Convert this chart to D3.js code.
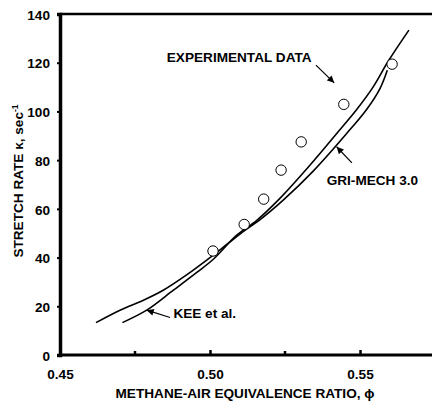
<!DOCTYPE html>
<html>
<head>
<meta charset="utf-8">
<script src="https://cdn.jsdelivr.net/npm/d3@7"></script>
<style>
  html, body { margin: 0; padding: 0; background: #fff; }
  svg { display: block; font-family: "Liberation Sans", Arial, sans-serif; font-weight: bold; }
</style>
</head>
<body>
<svg id="chart" width="432" height="407"></svg>
<script>
// Measured stretch rates of lean methane-air flames
const expPhi = [0.501, 0.5114, 0.5179, 0.5237, 0.5304, 0.5446, 0.5607];
const expRate = [42.7, 53.6, 64.0, 75.9, 87.5, 102.9, 119.4];

// GRI-Mech 3.0 prediction
const griPhi = [0.462, 0.470, 0.4778, 0.4844, 0.4922, 0.500, 0.506, 0.5114, 0.5166, 0.5244, 0.5344, 0.5456, 0.5522, 0.5567, 0.5591];
const griRate = [13.3, 18.4, 22.5, 26.6, 32.9, 40.0, 45.8, 51.0, 55.5, 63.6, 75.5, 91.0, 100.8, 109.5, 116.9];

// Kee et al. prediction
const keePhi = [0.4708, 0.4789, 0.4878, 0.4956, 0.5011, 0.5089, 0.5156, 0.5233, 0.5333, 0.5433, 0.5489, 0.5544, 0.5594, 0.5663];
const keeRate = [13.3, 18.4, 26.6, 33.9, 39.3, 49.2, 55.3, 64.3, 77.9, 92.5, 100.8, 110.1, 120.6, 133.4];

// Axis ticks
const xTickLabels = [0.45, 0.50, 0.55];
const xMinorTicks = [0.475, 0.525];
const yTickLabels = [0, 20, 40, 60, 80, 100, 120, 140];

const FONT = 13.6;

const svg = d3.select("#chart");
const x = d3.scaleLinear().domain([0.45, 0.575]).range([60, 435]);
const y = d3.scaleLinear().domain([0, 140]).range([355, 14]);

svg.append("defs").append("marker")
  .attr("id", "head")
  .attr("viewBox", "0 0 10 10")
  .attr("refX", 10).attr("refY", 5)
  .attr("markerUnits", "userSpaceOnUse")
  .attr("markerWidth", 8).attr("markerHeight", 7)
  .attr("orient", "auto")
  .append("path").attr("d", "M0,0 L10,5 L0,10 Z").attr("fill", "#000");

// Frame: top border and heavy left/bottom axes
svg.append("line")
  .attr("x1", x(0.45)).attr("x2", 432)
  .attr("y1", y(140)).attr("y2", y(140))
  .attr("stroke", "#000").attr("stroke-width", 2.5);

// Y axis
const yAxis = d3.axisLeft(y).tickValues(yTickLabels).tickSize(3).tickPadding(7)
  .tickFormat(d3.format("d"));
const gy = svg.append("g").attr("transform", `translate(${x(0.45)},0)`).call(yAxis);
gy.select(".domain").attr("stroke-width", 3.5);
gy.selectAll(".tick line").attr("stroke-width", 2);
gy.selectAll(".tick text").attr("font-size", FONT).attr("font-weight", "bold")
  .attr("font-family", "Liberation Sans, Arial, sans-serif").attr("dy", "0.38em");

// X axis with ticks pointing inward
const xAxis = d3.axisBottom(x).tickValues(xTickLabels).tickSize(-5).tickPadding(14)
  .tickFormat(d3.format(".2f"));
const gx = svg.append("g").attr("transform", `translate(0,${y(0)})`).call(xAxis);
gx.select(".domain").attr("stroke-width", 3).attr("d", `M${x(0.45)},0H432`);
gx.selectAll(".tick line").attr("stroke-width", 2.5);
gx.selectAll(".tick text").attr("font-size", FONT).attr("font-weight", "bold")
  .attr("font-family", "Liberation Sans, Arial, sans-serif");
gx.selectAll(".minor").data(xMinorTicks).enter().append("line")
  .attr("class", "minor")
  .attr("x1", d => x(d)).attr("x2", d => x(d))
  .attr("y1", 0).attr("y2", -4)
  .attr("stroke", "#000").attr("stroke-width", 2.5);

// Axis titles
svg.append("text")
  .attr("x", 245).attr("y", 398)
  .attr("text-anchor", "middle").attr("font-size", FONT)
  .text("METHANE-AIR EQUIVALENCE RATIO, \u03D5");

const yt = svg.append("text")
  .attr("transform", "translate(23,181) rotate(-90)")
  .attr("text-anchor", "middle").attr("font-size", FONT);
yt.append("tspan").text("STRETCH RATE \u03BA, sec");
yt.append("tspan").attr("dy", -5).attr("font-size", 8.5).text("-1");

// Model curves
const line = d3.line().x(d => x(d[0])).y(d => y(d[1])).curve(d3.curveCatmullRom);
[[griPhi, griRate], [keePhi, keeRate]].forEach(([px, py]) => {
  svg.append("path")
    .datum(px.map((v, i) => [v, py[i]]))
    .attr("d", line)
    .attr("fill", "none").attr("stroke", "#000").attr("stroke-width", 1.6);
});

// Experimental points
svg.selectAll(".exp").data(expPhi).enter().append("circle")
  .attr("class", "exp")
  .attr("cx", d => x(d)).attr("cy", (d, i) => y(expRate[i]))
  .attr("r", 5.2)
  .attr("fill", "#fff").attr("stroke", "#000").attr("stroke-width", 1);

// Labels with pointer arrows
const notes = [
  { text: "EXPERIMENTAL DATA", tx: 0.4856, ty: 120.3, from: [0.5353, 119.0], to: [0.5414, 111.75] },
  { text: "GRI-MECH 3.0", tx: 0.5389, ty: 69.9, from: [0.5473, 78.9], to: [0.5422, 85.5] },
  { text: "KEE et al.", tx: 0.4878, ty: 15.3, from: [0.4867, 15.4], to: [0.4789, 18.4] }
];
notes.forEach(n => {
  svg.append("text").attr("x", x(n.tx)).attr("y", y(n.ty))
    .attr("font-size", FONT).text(n.text);
  svg.append("line")
    .attr("x1", x(n.from[0])).attr("y1", y(n.from[1]))
    .attr("x2", x(n.to[0])).attr("y2", y(n.to[1]))
    .attr("stroke", "#000").attr("stroke-width", 1.2)
    .attr("marker-end", "url(#head)");
});
</script>
</body>
</html>
